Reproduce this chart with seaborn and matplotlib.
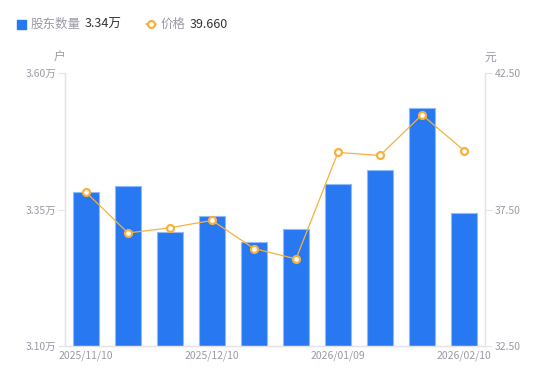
import matplotlib
matplotlib.use("Agg")
import matplotlib.pyplot as plt
import seaborn as sns
import pandas as pd
from matplotlib.patches import Rectangle
from matplotlib.lines import Line2D

# 数据
datas = ["2025/11/10", "2025/11/20", "2025/11/28", "2025/12/10", "2025/12/19",
         "2025/12/31", "2026/01/09", "2026/01/20", "2026/01/30", "2026/02/10"]
acionistas = [3.382, 3.393, 3.309, 3.338, 3.290, 3.314, 3.397, 3.422, 3.536, 3.344]  # 万户
precos = [38.13, 36.64, 36.83, 37.10, 36.07, 35.69, 39.59, 39.48, 40.97, 39.66]
ticks_esq = [3.10, 3.35, 3.60]
ticks_dir = [32.50, 37.50, 42.50]
rotulos_x = ["2025/11/10", "2025/12/10", "2026/01/09", "2026/02/10"]

azul = "#2878f2"
laranja = "#f7b13c"
cinza = "#9a9aa8"
linha_eixo = "#e3e3e8"

sns.set_theme(style="white")
plt.rcParams["font.family"] = ["Noto Sans CJK SC", "DejaVu Sans"]

df = pd.DataFrame({"Data": datas, "Acionistas": acionistas, "Preco": precos, "pos": range(len(datas))})

fig = plt.figure(figsize=(5.5, 3.81), dpi=100)
ax = fig.add_axes([65 / 550, 1 - 346 / 381, 420 / 550, 273 / 381])

sns.barplot(data=df, x="Data", y="Acionistas", ax=ax, color=azul, width=0.6,
            edgecolor="#8fbaf9", linewidth=0.8, saturation=1)
ax.set_xlim(-0.5, len(datas) - 0.5)
ax.set_ylim(ticks_esq[0], ticks_esq[-1])
ax.set_yticks(ticks_esq)
ax.set_yticklabels([f"{v:.2f}万" for v in ticks_esq])
ax.set_xticks([datas.index(r) for r in rotulos_x])
ax.set_xticklabels(rotulos_x)
ax.set_xlabel("")
ax.set_ylabel("")

ax2 = ax.twinx()
sns.lineplot(data=df, x="pos", y="Preco", ax=ax2, color=laranja, linewidth=0.9,
             marker="o", markersize=5, markerfacecolor="white",
             markeredgecolor=laranja, markeredgewidth=1.6)
ax2.set_ylim(ticks_dir[0], ticks_dir[-1])
ax2.set_yticks(ticks_dir)
ax2.set_yticklabels([f"{v:.2f}" for v in ticks_dir])
ax2.set_xlabel("")
ax2.set_ylabel("")
ax2.set_xlim(-0.5, len(datas) - 0.5)

for a in (ax, ax2):
    for lado in ["top"]:
        a.spines[lado].set_visible(False)
    for lado in ["left", "right", "bottom"]:
        a.spines[lado].set_color(linha_eixo)
        a.spines[lado].set_linewidth(0.9)
    a.tick_params(colors=cinza, labelsize=7.5, length=0, pad=4)
    a.grid(False)

ax.tick_params(axis="y", left=True, length=5, width=0.8, color=linha_eixo, pad=1)
ax2.tick_params(axis="y", right=True, length=5, width=0.8, color=linha_eixo, pad=2)
ax.tick_params(axis="x", pad=3)

# unidades
fig.text(59 / 550, 1 - 57 / 381, "户", color=cinza, fontsize=8.5, ha="center", va="center")
fig.text(490 / 550, 1 - 57 / 381, "元", color=cinza, fontsize=8.5, ha="center", va="center")

# legenda
yl = 1 - 24 / 381
fig.patches.append(Rectangle((17 / 550, 1 - 28.5 / 381), 9 / 550, 9 / 381,
                             transform=fig.transFigure, color=azul, figure=fig))
fig.text(31 / 550, yl, "股东数量", color=cinza, fontsize=9, va="center")
fig.text(85 / 550, yl, f"{acionistas[-1]:.2f}万", color="#333333", fontsize=9, va="center")
fig.lines.append(Line2D([146 / 550, 156 / 550], [yl, yl], transform=fig.transFigure,
                        color=laranja, linewidth=1.2, marker="o", markevery=[0],
                        markersize=0, figure=fig))
fig.lines.append(Line2D([151 / 550], [yl], transform=fig.transFigure, color=laranja,
                        marker="o", markersize=5, markerfacecolor="white",
                        markeredgewidth=1.6, linestyle="none", figure=fig))
fig.text(161 / 550, yl, "价格", color=cinza, fontsize=9, va="center")
fig.text(190 / 550, yl, f"{precos[-1]:.3f}", color="#333333", fontsize=9, va="center")

plt.savefig("out.png", dpi=100)
